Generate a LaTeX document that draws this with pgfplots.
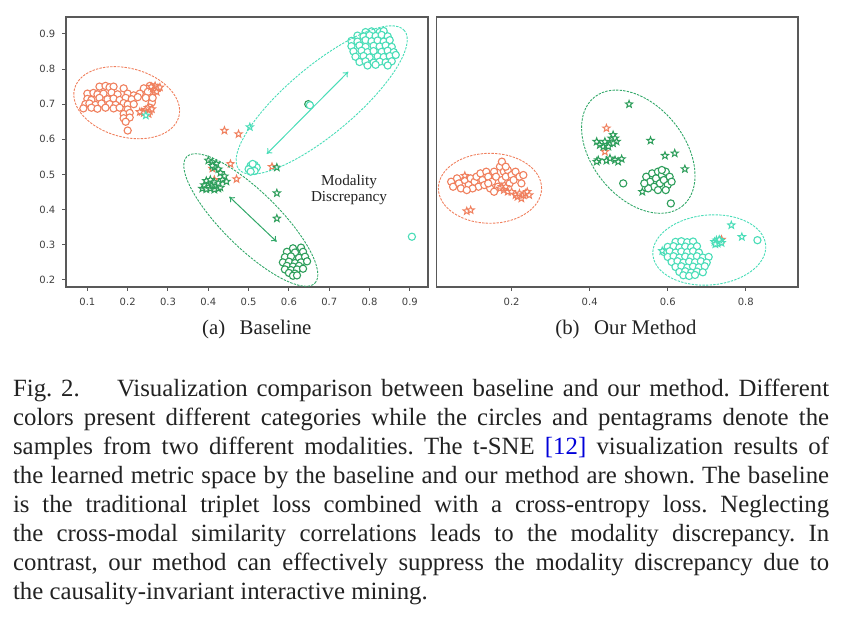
\documentclass[border=0pt]{standalone}
\usepackage{pgfplots}
\pgfplotsset{compat=1.18}
\usepackage{fontspec}
\setmainfont{Liberation Serif}
\newfontfamily\dejavu{DejaVu Sans}
\usetikzlibrary{arrows.meta}

\definecolor{corange}{HTML}{F0805E}
\definecolor{cdgreen}{HTML}{2E9E5B}
\definecolor{cturq}{HTML}{4ADDB8}
\definecolor{capgray}{HTML}{222222}

% outlined five-pointed star, like matplotlib's '*'
\pgfdeclareplotmark{pentagram}{%
  \pgfpathmoveto{\pgfpointpolar{90}{\pgfplotmarksize}}%
  \pgfpathlineto{\pgfpointpolar{126}{0.42\pgfplotmarksize}}%
  \pgfpathlineto{\pgfpointpolar{162}{\pgfplotmarksize}}%
  \pgfpathlineto{\pgfpointpolar{198}{0.42\pgfplotmarksize}}%
  \pgfpathlineto{\pgfpointpolar{234}{\pgfplotmarksize}}%
  \pgfpathlineto{\pgfpointpolar{270}{0.42\pgfplotmarksize}}%
  \pgfpathlineto{\pgfpointpolar{306}{\pgfplotmarksize}}%
  \pgfpathlineto{\pgfpointpolar{342}{0.42\pgfplotmarksize}}%
  \pgfpathlineto{\pgfpointpolar{18}{\pgfplotmarksize}}%
  \pgfpathlineto{\pgfpointpolar{54}{0.42\pgfplotmarksize}}%
  \pgfpathclose
  \pgfusepathqfillstroke
}

\pgfplotsset{
  tsne/.style={
    scale only axis, height=135bp,
    axis line style={draw=black!65, line width=0.6bp},
    tick style={draw=black!65, line width=0.5bp},
    tick align=outside, major tick length=1.8bp, tick pos=left,
    ticklabel style={font=\dejavu\fontsize{5bp}{6bp}\selectfont, text=black!75},
    /pgf/number format/assume math mode=true,
    /pgf/number format/.cd, fixed, precision=1, /pgfplots/.cd,
    anchor=south west,
  },
  circ/.style={only marks, mark=*, mark size=1.8bp,
    mark options={draw=#1, fill=white, line width=0.55bp}},
  pstar/.style={only marks, mark=pentagram, mark size=1.9bp,
    mark options={draw=#1, fill=white, line width=0.5bp, line join=miter}},
}

\tikzset{ell/.style={dash pattern=on 1.2bp off 0.6bp, line width=0.45bp}}

\begin{document}
\frenchspacing
\begin{tikzpicture}[x=0.5bp, y=0.5bp]
\useasboundingbox (0,0) rectangle (843,623);

% ---------------- (a) Baseline ----------------
\begin{axis}[tsne, at={(33bp,168bp)}, width=181bp,
  xmin=0.047, xmax=0.945, ymin=0.18, ymax=0.948,
  xtick={0.1,0.2,0.3,0.4,0.5,0.6,0.7,0.8,0.9},
  ytick={0.2,0.3,0.4,0.5,0.6,0.7,0.8,0.9}]
% orange circles
\addplot[circ=corange] coordinates {
(0.13,0.75)(0.145,0.752)(0.155,0.748)(0.165,0.75)(0.19,0.745)(0.24,0.745)(0.255,0.752)(0.265,0.748)
(0.1,0.73)(0.115,0.732)(0.125,0.728)(0.14,0.73)(0.16,0.733)(0.175,0.728)(0.2,0.73)(0.215,0.725)(0.23,0.73)(0.25,0.735)
(0.1,0.715)(0.11,0.712)(0.13,0.718)(0.15,0.714)(0.165,0.716)(0.18,0.712)(0.195,0.718)(0.21,0.714)(0.225,0.72)(0.245,0.718)
(0.095,0.70)(0.105,0.702)(0.12,0.698)(0.135,0.702)(0.155,0.70)(0.17,0.698)(0.19,0.703)(0.2,0.699)(0.215,0.70)(0.26,0.705)
(0.09,0.688)(0.11,0.69)(0.125,0.687)(0.145,0.69)(0.165,0.688)(0.18,0.69)(0.2,0.685)(0.255,0.69)
(0.19,0.672)(0.205,0.675)(0.262,0.718)
(0.19,0.66)(0.205,0.662)(0.195,0.65)(0.2,0.625)
};
% orange stars
\addplot[pstar=corange] coordinates {
(0.262,0.745)(0.268,0.752)(0.275,0.746)(0.266,0.738)(0.272,0.735)(0.28,0.748)(0.258,0.75)
(0.235,0.678)(0.245,0.684)(0.25,0.69)(0.255,0.68)(0.24,0.675)(0.26,0.686)(0.23,0.678)(0.252,0.672)
(0.44,0.625)(0.475,0.615)(0.455,0.53)(0.41,0.517)(0.415,0.485)(0.47,0.487)(0.558,0.522)
};
% dark green stars
\addplot[pstar=cdgreen] coordinates {
(0.385,0.46)(0.395,0.458)(0.405,0.46)(0.415,0.457)(0.425,0.46)(0.39,0.47)(0.40,0.475)(0.41,0.47)
(0.42,0.468)(0.43,0.463)(0.395,0.482)(0.405,0.485)(0.415,0.478)(0.425,0.475)(0.40,0.54)(0.41,0.535)
(0.42,0.53)(0.415,0.52)(0.425,0.515)(0.43,0.505)(0.44,0.495)(0.435,0.485)(0.445,0.48)(0.41,0.525)
(0.57,0.52)(0.57,0.447)(0.57,0.375)
};
% dark green circles
\addplot[circ=cdgreen] coordinates {
(0.61,0.29)(0.63,0.292)
(0.595,0.28)(0.615,0.278)(0.635,0.28)
(0.59,0.265)(0.605,0.267)(0.625,0.263)(0.64,0.266)
(0.585,0.25)(0.60,0.252)(0.615,0.248)(0.63,0.25)(0.645,0.253)
(0.595,0.24)(0.61,0.238)(0.625,0.24)
(0.59,0.23)(0.605,0.228)(0.62,0.23)(0.635,0.232)
(0.60,0.22)(0.615,0.218)(0.61,0.212)(0.62,0.213)
(0.648,0.70)
};
% turquoise circles
\addplot[circ=cturq] coordinates {
(0.79,0.905)(0.805,0.907)(0.825,0.905)(0.835,0.908)
(0.77,0.895)(0.785,0.893)(0.80,0.896)(0.815,0.894)(0.83,0.897)(0.845,0.893)
(0.755,0.88)(0.77,0.878)(0.79,0.882)(0.805,0.879)(0.82,0.881)(0.835,0.878)(0.85,0.882)
(0.755,0.865)(0.775,0.867)(0.79,0.863)(0.81,0.866)(0.825,0.864)(0.84,0.867)(0.855,0.863)
(0.76,0.85)(0.78,0.852)(0.795,0.848)(0.81,0.851)(0.83,0.849)(0.845,0.852)(0.86,0.848)
(0.765,0.835)(0.785,0.837)(0.80,0.833)(0.82,0.836)(0.835,0.834)(0.85,0.837)(0.865,0.84)
(0.775,0.82)(0.79,0.822)(0.81,0.818)(0.825,0.821)(0.84,0.819)(0.855,0.822)
(0.795,0.81)(0.815,0.812)(0.845,0.81)
(0.505,0.525)(0.515,0.527)(0.51,0.515)(0.52,0.52)(0.50,0.515)(0.51,0.53)(0.515,0.51)(0.505,0.508)
(0.905,0.323)(0.652,0.697)
};
% turquoise stars
\addplot[pstar=cturq] coordinates {(0.503,0.635)(0.245,0.668)};
\end{axis}

% ---------------- (b) Our Method ----------------
\begin{axis}[tsne, at={(218.35bp,168bp)}, width=180.65bp,
  xmin=0.008, xmax=0.934, ymin=0, ymax=0.808,
  xtick={0.2,0.4,0.6,0.8}, ytick=\empty]
% orange circles
\addplot[circ=corange] coordinates {
(0.045,0.315)(0.05,0.30)(0.06,0.325)(0.065,0.31)(0.07,0.295)(0.08,0.32)(0.09,0.305)(0.095,0.325)
(0.105,0.315)(0.11,0.33)(0.115,0.30)(0.12,0.34)(0.125,0.32)(0.13,0.305)(0.135,0.345)(0.14,0.33)
(0.145,0.295)(0.15,0.315)(0.155,0.345)(0.16,0.33)(0.165,0.30)(0.17,0.36)(0.175,0.375)(0.18,0.345)
(0.175,0.32)(0.185,0.33)(0.19,0.35)(0.195,0.31)(0.2,0.335)(0.205,0.32)(0.21,0.345)(0.22,0.33)
(0.225,0.31)(0.23,0.335)(0.185,0.36)(0.1,0.295)(0.085,0.29)(0.155,0.285)(0.14,0.31)
};
% orange stars
\addplot[pstar=corange] coordinates {
(0.175,0.30)(0.17,0.295)(0.18,0.29)(0.185,0.30)(0.19,0.285)(0.2,0.285)(0.21,0.275)(0.215,0.27)
(0.22,0.28)(0.225,0.265)(0.23,0.275)(0.235,0.28)(0.24,0.285)(0.245,0.275)(0.085,0.227)(0.095,0.23)
(0.08,0.333)(0.443,0.475)(0.439,0.405)(0.738,0.142)
};
% dark green stars
\addplot[pstar=cdgreen] coordinates {
(0.418,0.435)(0.426,0.425)(0.435,0.42)(0.443,0.425)(0.452,0.43)(0.456,0.445)(0.46,0.455)(0.465,0.445)
(0.469,0.435)(0.46,0.43)(0.448,0.42)(0.439,0.435)(0.422,0.38)(0.443,0.378)(0.465,0.38)(0.482,0.383)
(0.473,0.375)(0.452,0.385)(0.418,0.375)
(0.501,0.547)(0.556,0.438)(0.593,0.393)(0.618,0.40)(0.644,0.353)(0.535,0.285)
};
% dark green circles
\addplot[circ=cdgreen] coordinates {
(0.545,0.33)(0.555,0.315)(0.56,0.34)(0.57,0.325)(0.575,0.345)(0.58,0.31)(0.585,0.335)(0.59,0.32)
(0.595,0.345)(0.60,0.305)(0.605,0.33)(0.565,0.30)(0.55,0.295)(0.575,0.29)(0.595,0.29)(0.61,0.315)
(0.54,0.31)(0.585,0.35)
(0.486,0.31)(0.608,0.25)
};
% turquoise circles
\addplot[circ=cturq] coordinates {
(0.62,0.135)(0.635,0.137)(0.65,0.134)(0.665,0.136)
(0.60,0.12)(0.615,0.122)(0.63,0.118)(0.645,0.121)(0.66,0.119)(0.675,0.122)
(0.59,0.105)(0.605,0.107)(0.62,0.103)(0.635,0.106)(0.65,0.104)(0.665,0.107)(0.68,0.103)
(0.60,0.09)(0.615,0.092)(0.63,0.088)(0.645,0.091)(0.66,0.089)(0.675,0.092)(0.69,0.088)(0.705,0.09)
(0.61,0.075)(0.625,0.077)(0.64,0.073)(0.655,0.076)(0.67,0.074)(0.685,0.077)(0.70,0.073)
(0.62,0.06)(0.635,0.062)(0.65,0.058)(0.665,0.061)(0.68,0.059)(0.695,0.062)
(0.63,0.045)(0.645,0.047)(0.66,0.043)(0.675,0.046)(0.69,0.044)
(0.64,0.035)(0.655,0.033)(0.67,0.036)
(0.83,0.14)
};
% turquoise stars
\addplot[pstar=cturq] coordinates {
(0.72,0.135)(0.725,0.14)(0.73,0.135)(0.735,0.138)(0.728,0.13)(0.722,0.128)(0.738,0.132)(0.732,0.142)
(0.763,0.185)(0.79,0.15)(0.586,0.108)
};
\end{axis}

% cluster outlines and arrows
\draw[ell, corange] (126.7,520.3) ellipse [x radius=27bp, y radius=17.2bp, rotate=-15];
\draw[ell, cturq] (321.7,523) ellipse [x radius=54bp, y radius=17bp, rotate=40];
\draw[ell, cdgreen!85!cturq] (250.8,403) ellipse [x radius=45bp, y radius=14bp, rotate=-44.6];
\draw[ell, corange] (490,434.7) ellipse [x radius=25.8bp, y radius=17.5bp];
\draw[ell, cdgreen!85!cturq] (638.3,471.3) ellipse [x radius=35bp, y radius=23bp, rotate=-51];
\draw[ell, cturq] (709.3,373) ellipse [x radius=28.3bp, y radius=17.5bp, rotate=5];
\draw[cturq, line width=0.5bp, {To[length=2.5bp,width=3.5bp]}-{To[length=2.5bp,width=3.5bp]}] (266.7,469) -- (348.3,551.3);
\draw[cdgreen!85!cturq, line width=0.5bp, {To[length=2.5bp,width=3.5bp]}-{To[length=2.5bp,width=3.5bp]}] (229.3,426.3) -- (276.7,381.3);

\node[anchor=base, inner sep=0, font=\fontsize{7.6bp}{8bp}\selectfont, text=capgray] at (349,437.3) {Modality};
\node[anchor=base, inner sep=0, font=\fontsize{7.6bp}{8bp}\selectfont, text=capgray] at (349,421.3) {Discrepancy};

% sub-captions
\node[anchor=base west, inner sep=0, font=\fontsize{10.4bp}{12bp}\selectfont, text=capgray] at (201.7,288) {(a)\hspace{0.7em}Baseline};
\node[anchor=base west, inner sep=0, font=\fontsize{10.4bp}{12bp}\selectfont, text=capgray] at (555,288) {(b)\hspace{0.7em}Our Method};

% caption
\begin{scope}[every node/.style={anchor=base west, inner sep=0, text=capgray, font=\fontsize{12.4bp}{14bp}\selectfont}]
\node at (12.7,226) {\makebox[408bp][s]{Fig. 2.\hspace{1.5em}Visualization comparison between baseline and our method. Different}};
\node at (12.7,197) {\makebox[408bp][s]{colors present different categories while the circles and pentagrams denote the}};
\node at (12.7,168) {\makebox[408bp][s]{samples from two different modalities. The t-SNE \textcolor{blue!85!black}{[12]} visualization results of}};
\node at (12.7,139) {\makebox[408bp][s]{the learned metric space by the baseline and our method are shown. The baseline}};
\node at (12.7,110) {\makebox[408bp][s]{is the traditional triplet loss combined with a cross-entropy loss. Neglecting}};
\node at (12.7,81) {\makebox[408bp][s]{the cross-modal similarity correlations leads to the modality discrepancy. In}};
\node at (12.7,52) {\makebox[408bp][s]{contrast, our method can effectively suppress the modality discrepancy due to}};
\node at (12.7,23) {the causality-invariant interactive mining.};
\end{scope}
\end{tikzpicture}
\end{document}
